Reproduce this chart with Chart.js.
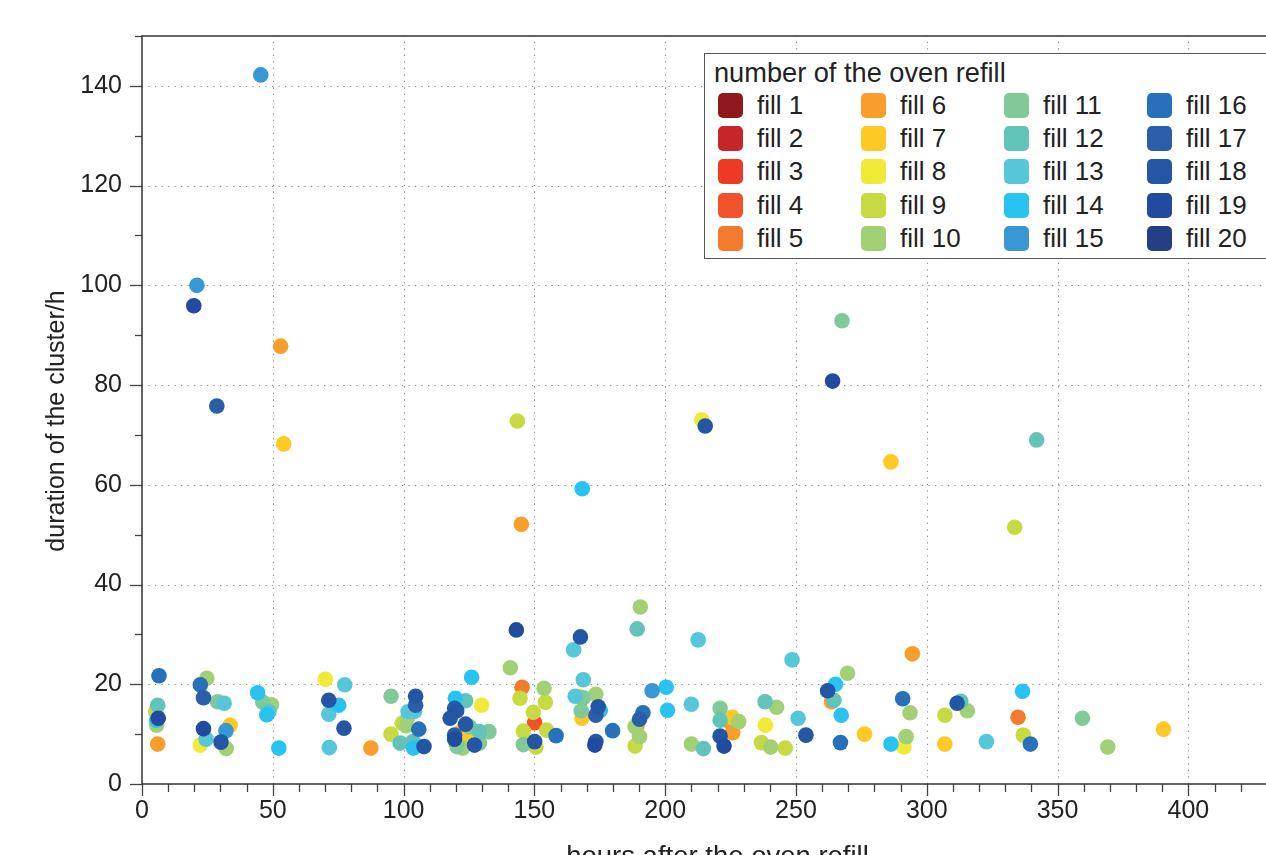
<!DOCTYPE html>
<html>
<head>
<meta charset="utf-8">
<script src="https://cdn.jsdelivr.net/npm/chart.js@4.4.1/dist/chart.umd.min.js"></script>
<style>
  html, body { margin: 0; padding: 0; background: #fff; overflow: hidden; width: 1266px; height: 855px; }
  #wrap { position: absolute; left: 0; top: 0; width: 1320px; height: 880px; }
  #legend { position: absolute; left: 704px; top: 53px; width: 640px; height: 204px; border: 1.3px solid #555; background: #fff; font-family: "Liberation Sans", Arial, sans-serif; color: #222; }
  #legend .ttl { position: absolute; left: 9px; top: 4px; font-size: 27.2px; line-height: 30px; white-space: nowrap; }
  #legend .grid { position: absolute; left: 13px; top: 35px; display: grid; grid-template-columns: repeat(4, 143px); grid-template-rows: repeat(5, 33.2px); grid-auto-flow: column; }
  #legend .it { display: flex; align-items: center; font-size: 26px; white-space: nowrap; }
  #legend .sw { width: 25px; height: 25px; border-radius: 5px; margin-right: 14px; flex: none; }
</style>
</head>
<body>
<div id="wrap"><canvas id="c" width="1320" height="880"></canvas></div>
<div id="legend"><div class="ttl" id="lt"></div><div class="grid" id="lg"></div></div>
<script>
// ---- data ----
const legendTitle = 'number of the oven refill';
const xTitle = 'hours after the oven refill';
const yTitle = 'duration of the cluster/h';
const xTicks = [0, 50, 100, 150, 200, 250, 300, 350, 400];
const yTicks = [0, 20, 40, 60, 80, 100, 120, 140];
const fillLabels = ['fill 1','fill 2','fill 3','fill 4','fill 5','fill 6','fill 7','fill 8','fill 9','fill 10',
  'fill 11','fill 12','fill 13','fill 14','fill 15','fill 16','fill 17','fill 18','fill 19','fill 20'];
const fillColors = ['#8f191d','#c62529','#ee3a24','#f0532c','#f47a2d','#f99d2b','#fec825','#f0e936','#c7da42','#a2d175',
  '#80c998','#62c4b9','#56c6d9','#28c3f1','#3798d4','#2770ba','#2a5ea9','#2456a6','#204b9e','#253f86'];

const fill1 = [];
const fill2 = [];
const fill3 = [];
const fill4 = [[150.1,12.3]];
const fill5 = [[145.3,19.4],[334.9,13.4]];
const fill6 = [[53,87.8],[145,52.1],[294.5,26.1],[6.0,8.0],[87.5,7.2],[189.2,11.6],[224.8,12.4],[225.8,10.3],[263.6,16.5]];
const fill7 = [[54.2,68.2],[286.3,64.6],[33.7,11.8],[123.9,10.2],[122,10.5],[121.4,8.8],[167.2,17.5],[168.2,13.2],[225.6,13.4],[276.2,10.0],[306.9,8.0],[390.5,11.0]];
const fill8 = [[214,73],[22.3,7.8],[70.1,21.0],[129.8,15.8],[238.3,11.8],[291.3,7.4]];
const fill9 = [[143.5,72.8],[333.6,51.5],[5.2,14.5],[95.2,10.0],[99.5,12.2],[144.5,17.2],[154.2,16.4],[149.6,14.4],[145.8,10.6],[154.7,10.8],[150.6,7.4],[188.5,7.6],[236.8,8.3],[245.9,7.2],[306.9,13.8],[336.9,9.8]];
const fill10 = [[190.5,35.5],[140.8,23.3],[5.6,11.8],[24.8,21.2],[32.2,7.1],[49.5,15.9],[101.7,13.4],[101,11.7],[122.6,7.2],[153.7,19.2],[173.5,18.0],[188.5,11.5],[190.2,9.5],[210,8.0],[228.1,12.5],[242.6,15.4],[240.3,7.4],[269.7,22.2],[293.6,14.3],[292.1,9.5],[315.5,14.7],[369.2,7.4]];
const fill11 = [[267.6,92.9],[28.9,16.5],[46.2,16.4],[95.2,17.6],[125.2,11.5],[132.6,10.5],[129,8.2],[120.4,7.5],[145.8,7.9],[168.7,17.3],[167.9,14.7],[221,15.2],[359.5,13.2]];
const fill12 = [[342,69],[189.3,31.1],[6.0,15.8],[98.7,8.2],[103.6,8.5],[123.7,16.7],[129,10.5],[214.6,7.1],[221,12.8],[238.2,16.5],[264.5,16.8],[313,16.6]];
const fill13 = [[212.6,28.9],[165,26.9],[248.5,24.9],[31.4,16.2],[24.5,9.0],[48.5,14.5],[77.5,19.9],[71.4,14.0],[71.6,7.3],[101.7,14.5],[104.2,14.6],[168.7,20.9],[165.6,17.6],[210,16.0],[250.8,13.2],[322.8,8.5]];
const fill14 = [[168.3,59.2],[5.6,12.8],[44.2,18.3],[47.7,13.9],[52.3,7.2],[75.2,15.8],[103.8,7.2],[126,21.4],[119.8,17.2],[175.2,14.8],[200.4,19.4],[200.9,14.8],[265.1,20.0],[267.3,13.8],[286.3,8.0],[336.6,18.6]];
const fill15 = [[45.4,142.2],[21,100],[32.1,10.7],[195,18.7]];
const fill16 = [[6.5,21.7],[22.3,19.9],[105.8,11.0],[158.3,9.7],[179.9,10.7],[191.5,14.3],[267,8.3],[290.8,17.1],[339.6,8.0]];
const fill17 = [[28.6,75.8],[23.5,17.3],[104.6,15.8],[119.5,15.2],[119.5,9.8],[173.5,13.8],[190.2,13.0]];
const fill18 = [[215.3,71.8],[167.6,29.5],[30.2,8.4],[71.4,16.8],[77.2,11.2],[104.6,17.6],[107.8,7.5],[120.3,14.7],[117.8,13.2],[123.7,12.0],[127.1,7.8],[150.1,8.5],[174.4,15.5],[173.5,8.5],[221,9.6],[253.8,9.8],[262.1,18.7],[311.6,16.2]];
const fill19 = [[19.8,95.9],[264,80.8],[143.1,30.9],[6.2,13.2],[23.5,11.1],[119.5,9.0],[173.1,7.8],[222.5,7.6]];
const fill20 = [];
const fillSeries = [fill1,fill2,fill3,fill4,fill5,fill6,fill7,fill8,fill9,fill10,fill11,fill12,fill13,fill14,fill15,fill16,fill17,fill18,fill19,fill20];

// ---- legend (HTML) ----
document.getElementById('lt').textContent = legendTitle;
const lg = document.getElementById('lg');
fillLabels.forEach((lab, i) => {
  const it = document.createElement('div'); it.className = 'it';
  const sw = document.createElement('span'); sw.className = 'sw'; sw.style.background = fillColors[i];
  const tx = document.createElement('span'); tx.textContent = lab;
  it.appendChild(sw); it.appendChild(tx); lg.appendChild(it);
});

// ---- chart ----
const FONT = '"Liberation Sans", Arial, sans-serif';
const PLOT_RIGHT = 1293;
const frame = {
  id: 'frame',
  beforeDatasetsDraw(chart) {
    const {ctx, chartArea: a, scales: {x, y}} = chart;
    ctx.save();
    ctx.strokeStyle = '#8a8a8a'; ctx.lineWidth = 1.1; ctx.setLineDash([1.2, 5.3]);
    xTicks.forEach(v => { if (v === 0) return; const px = Math.round(x.getPixelForValue(v)) + 0.5;
      ctx.beginPath(); ctx.moveTo(px, a.bottom); ctx.lineTo(px, a.top); ctx.stroke(); });
    yTicks.forEach(v => { if (v === 0) return; const py = Math.round(y.getPixelForValue(v)) + 0.5;
      ctx.beginPath(); ctx.moveTo(a.left, py); ctx.lineTo(a.right, py); ctx.stroke(); });
    ctx.restore();
  },
  afterDraw(chart) {
    const {ctx, chartArea: a, scales: {x, y}} = chart;
    ctx.save();
    ctx.setLineDash([]);
    ctx.strokeStyle = '#444'; ctx.lineWidth = 1.3;
    for (let v = 0; v <= 440; v += 10) {
      const px = Math.round(x.getPixelForValue(v)) + 0.5;
      const len = (v % 50 === 0) ? 12 : 8;
      ctx.beginPath(); ctx.moveTo(px, a.bottom); ctx.lineTo(px, a.bottom + len); ctx.stroke();
    }
    for (let v = 0; v <= 150; v += 10) {
      const py = Math.round(y.getPixelForValue(v)) + 0.5;
      const len = (v % 20 === 0) ? 12 : 7;
      ctx.beginPath(); ctx.moveTo(a.left, py); ctx.lineTo(a.left - len, py); ctx.stroke();
    }
    ctx.strokeStyle = '#333'; ctx.lineWidth = 1.5;
    ctx.strokeRect(a.left, a.top, a.right - a.left, a.bottom - a.top);
    // y-axis title
    ctx.translate(57, 421);
    ctx.rotate(-Math.PI / 2);
    ctx.fillStyle = '#222';
    ctx.font = '25px ' + FONT;
    ctx.textAlign = 'center'; ctx.textBaseline = 'middle';
    ctx.fillText(yTitle, 0, 0);
    ctx.restore();
  }
};

new Chart(document.getElementById('c'), {
  type: 'scatter',
  data: {
    datasets: fillSeries.map((s, i) => ({
      label: fillLabels[i],
      data: s.map(p => ({x: p[0], y: p[1]})),
      backgroundColor: fillColors[i],
      borderWidth: 0,
      pointRadius: 7.8,
      pointHoverRadius: 7.8,
      order: 20 - i
    }))
  },
  options: {
    responsive: false,
    animation: false,
    events: [],
    layout: { padding: { left: 0, top: 36, right: 0, bottom: 0 } },
    plugins: { legend: { display: false }, tooltip: { enabled: false } },
    scales: {
      x: {
        type: 'linear', min: 0, max: 440,
        afterBuildTicks: s => { s.ticks = xTicks.map(v => ({value: v})); },
        afterFit: s => { s.height = 96; s.paddingRight = 0; s.paddingLeft = 0; },
        grid: { display: false, drawTicks: false },
        border: { display: false },
        ticks: { color: '#222', font: { family: FONT, size: 25 }, padding: 12, maxRotation: 0, autoSkip: false },
        title: { display: true, text: xTitle, color: '#222', font: { family: FONT, size: 27.5 }, padding: { top: 0, bottom: 6 } }
      },
      y: {
        type: 'linear', min: 0, max: 150,
        afterBuildTicks: s => { s.ticks = yTicks.map(v => ({value: v})); },
        afterFit: s => { s.width = 142; s.paddingTop = 0; s.paddingBottom = 0; },
        grid: { display: false, drawTicks: false },
        border: { display: false },
        ticks: { color: '#222', font: { family: FONT, size: 25 }, padding: 20, autoSkip: false },
        title: { display: false }
      }
    }
  },
  plugins: [frame, {
    id: 'fixRight',
    beforeLayout(chart) { chart.options.layout.padding.right = chart.width - PLOT_RIGHT; }
  }]
});
</script>
</body>
</html>
